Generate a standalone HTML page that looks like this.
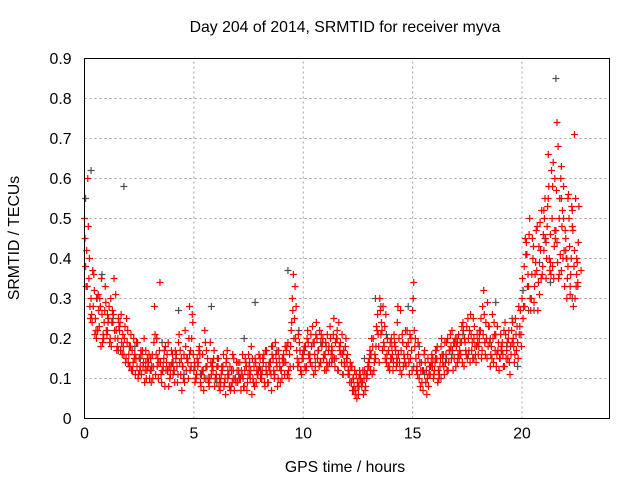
<!DOCTYPE html>
<html><head><meta charset="utf-8"><style>
body{margin:0;background:#fff;}
svg text{font-family:"Liberation Sans",sans-serif;font-size:15.8px;fill:#000;}
</style></head><body>
<svg id="chart" width="640" height="480" xmlns="http://www.w3.org/2000/svg">
<text x="345" y="32" text-anchor="middle">Day 204 of 2014, SRMTID for receiver myva</text>
<text x="345" y="472" text-anchor="middle">GPS time / hours</text>
<text transform="translate(19,238) rotate(-90)" text-anchor="middle">SRMTID / TECUs</text>
<g id="grid"></g>
<g id="ticks"></g>
<g id="marks"></g>
<rect x="84.5" y="58.5" width="525" height="360" fill="none" stroke="#000"/>
</svg>
<script>
const xTicks=[0,5,10,15,20];
const yTicks=[0,0.1,0.2,0.3,0.4,0.5,0.6,0.7,0.8,0.9];
const yTickLabels=["0","0.1","0.2","0.3","0.4","0.5","0.6","0.7","0.8","0.9"];
const seriesStart=0.0, seriesStep=0.1;
const redA=[.50,.42,.35,.30,.28,.25,.22,.30,.26,.24,
.22,.25,.30,.24,.20,.18,.22,.19,.16,.15,
.14,.18,.12,.16,.13,.15,.11,.14,.17,.13,
.12,.16,.28,.20,.14,.11,.13,.18,.12,.10,
.14,.12,.16,.19,.11,.13,.22,.15,.28,.20,
.12,.10,.14,.09,.16,.22,.13,.08,.11,.15,
.10,.13,.07,.12,.09,.15,.11,.08,.12,.10,
.09,.14,.11,.08,.13,.16,.12,.10,.15,.11,
.13,.10,.16,.12,.09,.14,.18,.11,.13,.15,
.12,.16,.14,.19,.13,.30,.25,.17,.14,.12,
.15,.18,.22,.16,.13,.19,.24,.17,.14,.20,
.16,.21,.14,.18,.25,.15,.12,.19,.16,.13,
.14,.11,.09,.10,.07,.08,.11,.09,.12,.10,
.13,.16,.20,.15,.26,.30,.22,.18,.14,.17,
.15,.12,.18,.24,.14,.11,.16,.13,.19,.15,
.27,.18,.13,.10,.14,.12,.09,.15,.11,.13,
.12,.15,.10,.18,.16,.14,.20,.17,.22,.15,
.18,.21,.16,.24,.19,.15,.22,.17,.20,.14,
.16,.22,.28,.19,.15,.23,.18,.14,.21,.17,
.15,.19,.13,.17,.22,.16,.20,.25,.19,.23,
.30,.38,.44,.33,.27,.40,.36,.48,.31,.52,
.42,.35,.55,.46,.38,.60,.44,.50,.37,.58,
.45,.38,.33,.52,.42,.36];
const redB=[.38,.60,.28,.24,.32,.20,.27,.18,.21,.33,
.26,.19,.24,.35,.22,.25,.17,.21,.23,.19,
.18,.12,.20,.15,.10,.13,.17,.09,.12,.16,
.09,.13,.11,.15,.34,.12,.17,.14,.08,.13,
.11,.17,.09,.14,.07,.16,.12,.10,.17,.24,
.09,.15,.18,.11,.07,.13,.10,.19,.14,.08,
.13,.08,.11,.16,.06,.10,.13,.09,.07,.14,
.12,.07,.10,.15,.09,.11,.06,.13,.09,.12,
.10,.15,.08,.11,.14,.07,.12,.16,.10,.09,
.15,.11,.18,.10,.22,.36,.20,.13,.17,.15,
.18,.13,.16,.21,.19,.12,.15,.22,.18,.16,
.12,.17,.20,.15,.13,.22,.18,.14,.17,.20,
.11,.14,.07,.12,.05,.10,.09,.06,.08,.13,
.17,.11,.14,.23,.18,.21,.28,.15,.20,.12,
.18,.21,.13,.16,.27,.19,.14,.22,.11,.17,
.34,.15,.19,.08,.12,.17,.06,.11,.14,.10,
.15,.09,.13,.16,.11,.19,.14,.18,.12,.20,
.14,.17,.23,.13,.16,.20,.26,.15,.18,.21,
.20,.15,.32,.24,.18,.13,.26,.21,.16,.12,
.18,.13,.21,.15,.11,.19,.14,.17,.28,.21,
.25,.45,.33,.50,.36,.29,.47,.34,.42,.38,
.55,.48,.40,.62,.35,.47,.68,.41,.52,.33,
.30,.50,.40,.28,.55,.34];
const redC=[.45,.33,.40,.26,.36,.22,.31,.28,.19,.27,
.21,.28,.18,.26,.31,.20,.24,.16,.20,.25,
.16,.21,.14,.11,.19,.12,.16,.20,.10,.14,
.15,.10,.21,.13,.17,.09,.15,.12,.19,.11,
.16,.09,.13,.21,.15,.10,.18,.14,.12,.26,
.14,.11,.17,.08,.12,.19,.15,.10,.13,.17,
.11,.15,.09,.13,.10,.17,.08,.12,.15,.09,
.14,.10,.16,.12,.07,.13,.18,.09,.14,.11,
.15,.12,.09,.17,.13,.11,.15,.19,.08,.13,
.10,.14,.17,.12,.18,.27,.33,.15,.19,.11,
.17,.12,.19,.14,.23,.16,.20,.13,.21,.15,
.19,.13,.23,.17,.15,.20,.24,.16,.11,.18,
.16,.09,.13,.08,.11,.06,.10,.12,.07,.11,
.15,.20,.12,.18,.21,.27,.17,.23,.16,.13,
.20,.14,.17,.28,.12,.21,.15,.18,.14,.20,
.30,.20,.11,.14,.09,.16,.12,.08,.13,.15,
.14,.18,.11,.20,.13,.16,.12,.21,.17,.19,
.20,.15,.19,.22,.17,.25,.14,.19,.23,.18,
.18,.25,.21,.16,.29,.19,.15,.24,.13,.19,
.21,.16,.24,.19,.14,.22,.18,.21,.15,.27,
.35,.28,.41,.46,.30,.43,.39,.27,.49,.36,
.50,.40,.58,.36,.64,.45,.39,.55,.48,.42,
.40,.56,.36,.47,.30,.39];
const redD=[.33,.48,.25,.37,.21,.30,.23,.35,.20,.29,
.24,.20,.27,.22,.17,.23,.26,.18,.14,.22,
.13,.17,.15,.19,.11,.17,.13,.12,.15,.10,
.13,.19,.16,.10,.14,.12,.08,.16,.13,.17,
.12,.15,.11,.17,.13,.09,.15,.20,.13,.16,
.10,.13,.16,.12,.10,.17,.09,.14,.12,.10,
.15,.10,.13,.08,.14,.11,.07,.16,.10,.12,
.10,.12,.08,.14,.11,.10,.15,.08,.12,.16,
.11,.14,.17,.09,.12,.16,.10,.14,.17,.12,
.14,.18,.11,.16,.24,.20,.28,.21,.12,.16,
.13,.20,.15,.18,.11,.21,.17,.14,.19,.12,
.14,.18,.16,.21,.19,.12,.17,.21,.14,.15,
.12,.13,.10,.06,.09,.12,.08,.10,.11,.14,
.12,.18,.16,.22,.14,.24,.19,.26,.13,.19,
.16,.19,.15,.20,.17,.13,.22,.16,.21,.12,
.22,.12,.16,.12,.07,.14,.10,.13,.16,.11,
.17,.12,.15,.14,.19,.12,.17,.15,.19,.13,
.16,.19,.14,.20,.23,.17,.21,.25,.16,.19,
.22,.17,.26,.20,.23,.16,.20,.17,.23,.15,
.17,.22,.15,.20,.18,.24,.16,.23,.21,.18,
.28,.41,.36,.30,.45,.33,.37,.43,.35,.46,
.45,.53,.37,.50,.43,.57,.35,.60,.40,.47,
.35,.43,.53,.38,.33,.44];
const redLateStart=21.0;
const redLate=[.52,.44,.66,.39,.58,.47,.74,.36,.63,.50,.42,.55,.31,.48,.71,.40,.53,.37];
const grayStart=0.05, grayStep=0.5;
const gray=[.55,.30,.22,.17,.13,.15,.12,.19,.14,.11,.13,.10,.09,.12,.11,.14,.12,.18,.15,.13,.17,.14,.18,.20,.12,.08,.16,.28,.15,.19,.13,.11,.17,.15,.19,.16,.22,.20,.17,.25,.32,.27,.45,.85,.40,.33];
const gray2Start=0.3;
const gray2=[.62,.36,.25,.58,.18,.14,.20,.12,.27,.16,.11,.28,.13,.10,.20,.29,.13,.17,.37,.22,.16,.19,.14,.11,.07,.15,.30,.21,.14,.28,.18,.13,.10,.16,.21,.15,.19,.29,.18,.13,.27,.39,.34,.55,.30];

const X0=84.5,X1=609.5,Y0=418.5,Y1=58.5,XMAX=24,YMAX=0.9;
const xs=v=>X0+(X1-X0)*v/XMAX;
const ys=v=>Y0-(Y0-Y1)*v/YMAX;
const NS="http://www.w3.org/2000/svg";
function mk(tag,attrs,parent){const e=document.createElementNS(NS,tag);for(const k in attrs)e.setAttribute(k,attrs[k]);parent.appendChild(e);return e;}
const grid=document.getElementById('grid'),ticks=document.getElementById('ticks'),marks=document.getElementById('marks');
xTicks.forEach(t=>{const x=xs(t);
 if(t>0){const g=mk('line',{x1:x,x2:x,y1:Y0,y2:Y1,stroke:'#a0a0a0','stroke-dasharray':'2,3'},grid);
 
 }
 const l=mk('text',{x:x,y:Y0+20,'text-anchor':'middle'},ticks);l.textContent=String(t);
 
 
});
yTicks.forEach((t,i)=>{const y=ys(t);
 if(t>0&&t<YMAX){const g=mk('line',{x1:X0,x2:X1,y1:y,y2:y,stroke:'#a0a0a0','stroke-dasharray':'2,3'},grid);
 
 }
 const l=mk('text',{x:X0-13,y:y+5.5,'text-anchor':'end'},ticks);l.textContent=yTickLabels[i];
 
 
});
function plus(x,y,color){return mk('path',{d:`M${x-3.5},${y}h7M${x},${y-3.5}v7`,stroke:color,'stroke-width':1.2,fill:'none'},marks);}
gray.forEach((v,i)=>{const p=plus(xs(grayStart+i*grayStep),ys(v),'#505050');
 
 });
gray2.forEach((v,i)=>{const p=plus(xs(gray2Start+i*grayStep),ys(v),'#505050');
 
 });
[[redA,0],[redB,0.05],[redC,0.025],[redD,0.075]].forEach(([arr,off])=>{
 arr.forEach((v,i)=>{const p=plus(xs(seriesStart+off+i*seriesStep),ys(v),'#ff0000');
 
 });
});
redLate.forEach((v,i)=>{const p=plus(xs(redLateStart+i*seriesStep),ys(v),'#ff0000');
 
 });
</script>
</body></html>
